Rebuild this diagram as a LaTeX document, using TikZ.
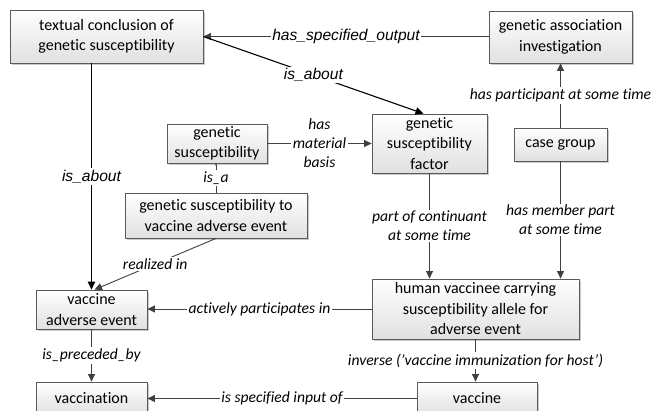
\documentclass[tikz,border=0pt]{standalone}
\usepackage{fontspec}
\setmainfont{Carlito}[Ligatures={NoCommon,NoRequired,NoContextual}]
\newfontfamily\arialfont{Liberation Sans}
\usetikzlibrary{arrows.meta,shadows}
\definecolor{linegray}{HTML}{404040}
\definecolor{boxborder}{HTML}{5A5A5A}
\tikzset{
  box/.style={draw=boxborder, line width=0.8pt, top color=white, bottom color=black!12,
    drop shadow={shadow xshift=1.6pt, shadow yshift=-1.6pt, fill=black!35, opacity=0.6},
    inner sep=0pt, align=center, font=\fontsize{16}{20.5}\selectfont},
  conn/.style={draw=linegray, line width=0.9pt, -{Triangle[length=7.5pt,width=7pt]}},
  bconn/.style={draw=black, line width=1.1pt, -{Triangle[length=8pt,width=7.5pt]}},
  lab/.style={fill=white, inner sep=1.5pt, align=center, font=\fontsize{15.6}{19}\selectfont\itshape},
  alab/.style={fill=white, inner sep=1.5pt, align=center, font=\arialfont\fontsize{15.6}{19}\selectfont\itshape},
}
\begin{document}
\begin{tikzpicture}[x=1pt,y=-1pt]
\useasboundingbox (0,0) rectangle (653,411);
\clip (0,0) rectangle (653,411);
\node[box, minimum width=193pt, minimum height=53pt] (textual) at (106.5,36.5) {textual conclusion of\\genetic susceptibility};
\node[box, minimum width=143pt, minimum height=52pt] (gai) at (560.5,37) {genetic association\\investigation};
\node[box, minimum width=115pt, minimum height=59pt] (factor) at (429.5,143.5) {genetic\\susceptibility\\factor};
\node[box, minimum width=93pt, minimum height=33pt] (case) at (560.5,144.5) {case group};
\node[box, minimum width=100pt, minimum height=39pt] (gs) at (217,143.5) {genetic\\susceptibility};
\node[box, minimum width=182pt, minimum height=45pt] (gsvae) at (216,215.5) {genetic susceptibility to\\vaccine adverse event};
\node[box, minimum width=111pt, minimum height=39pt] (vae) at (91.5,309.5) {vaccine\\adverse event};
\node[box, minimum width=207pt, minimum height=60pt] (human) at (475.5,309) {human vaccinee carrying\\susceptibility allele for\\adverse event};
\node[box, minimum width=111pt, minimum height=33pt] (vaccination) at (91.5,398.5) {vaccination};
\node[box, minimum width=120pt, minimum height=33pt] (vaccine) at (477,398.5) {vaccine};

\coordinate (factortop) at ([xshift=-6pt]factor.north);
\coordinate (vaetop) at ([xshift=3pt]vae.north);

\path[conn] (gai.west |- textual.east) -- node[alab] {has\_specified\_output} (textual.east);
\path[bconn] (textual.east) -- node[alab] {is\_about} (factortop);
\path[bconn] (vae.north |- textual.south) -- node[alab] {is\_about} (vae.north);
\path[conn] (gs.east) -- node[lab] {has\\material\\basis} (factor.west);
\path[conn, -{Triangle[length=2pt,width=2pt]}] (gsvae.north) -- node[lab] {is\_a} (gsvae.north |- gs.south);
\path[conn] (gsvae.south) -- node[lab] {realized in} (vaetop);
\path[conn] (factor.south) -- node[lab] {part of continuant\\at some time} (factor.south |- human.north);
\path[conn] (case.north) -- node[lab] {has participant at some time} (gai.south);
\path[conn] (case.south) -- node[lab] {has member part\\at some time} (case.south |- human.north);
\path[conn] (human.west) -- node[lab] {actively participates in} (human.west -| vae.east);
\path[conn] (vae.south) -- node[lab] {is\_preceded\_by} (vaccination.north);
\path[conn] (human.south) -- node[lab] {inverse ({\char"27}vaccine immunization for host{\char"27})} (human.south |- vaccine.north);
\path[conn] (vaccine.west) -- node[lab] {is specified input of} (vaccine.west -| vaccination.east);
\end{tikzpicture}
\end{document}
